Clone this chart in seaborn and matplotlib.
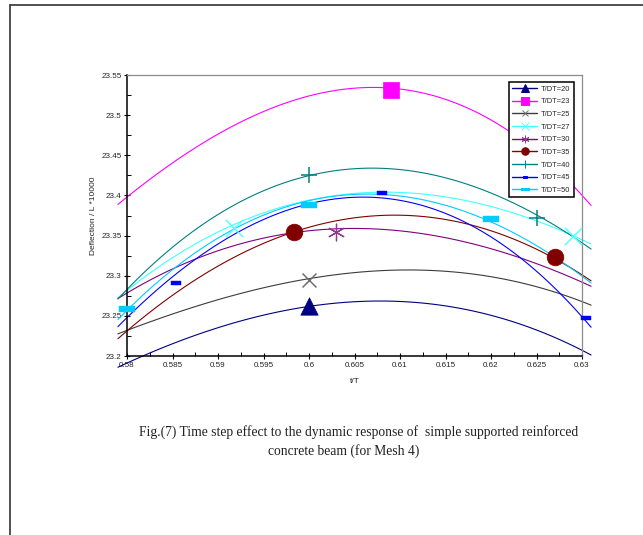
import numpy as np
import pandas as pd
import matplotlib
matplotlib.use("Agg")
import matplotlib.pyplot as plt
from matplotlib.lines import Line2D
import seaborn as sns

# ---------------- data ----------------
series_names = ["T/DT=20", "T/DT=23", "T/DT=25", "T/DT=27", "T/DT=30",
                "T/DT=35", "T/DT=40", "T/DT=45", "T/DT=50"]

curve_x = [0.58, 0.59, 0.60, 0.61, 0.62, 0.63]
curve_20 = [23.191, 23.236, 23.261, 23.268, 23.251, 23.207]
curve_23 = [23.398, 23.476, 23.525, 23.531, 23.495, 23.400]
curve_25 = [23.231, 23.273, 23.294, 23.306, 23.301, 23.267]
curve_27 = [23.281, 23.357, 23.390, 23.407, 23.385, 23.345]
curve_30 = [23.277, 23.336, 23.351, 23.356, 23.336, 23.291]
curve_35 = [23.230, 23.316, 23.357, 23.374, 23.359, 23.300]
curve_40 = [23.283, 23.376, 23.425, 23.432, 23.403, 23.341]
curve_45 = [23.249, 23.337, 23.388, 23.402, 23.341, 23.251]
curve_50 = [23.255, 23.353, 23.388, 23.398, 23.371, 23.298]

pts_x_20 = [0.600];                 pts_y_20 = [23.262]
pts_x_23 = [0.609];                 pts_y_23 = [23.531]
pts_x_25 = [0.600];                 pts_y_25 = [23.295]
pts_x_27 = [0.5918, 0.629];         pts_y_27 = [23.359, 23.349]
pts_x_30 = [0.603];                 pts_y_30 = [23.354]
pts_x_35 = [0.5984, 0.627];         pts_y_35 = [23.354, 23.323]
pts_x_40 = [0.600, 0.625];          pts_y_40 = [23.425, 23.372]
pts_x_45 = [0.5854, 0.608, 0.6304]; pts_y_45 = [23.291, 23.403, 23.247]
pts_x_50 = [0.580, 0.600, 0.620];   pts_y_50 = [23.259, 23.388, 23.371]

x_tick_values = [0.58, 0.585, 0.59, 0.595, 0.60, 0.605, 0.61, 0.615, 0.62, 0.625, 0.63]
x_tick_labels = ["0.58", "0.585", "0.59", "0.595", "0.6", "0.605", "0.61",
                 "0.615", "0.62", "0.625", "0.63"]
y_tick_values = [23.2, 23.25, 23.3, 23.35, 23.4, 23.45, 23.5, 23.55]
y_tick_labels = ["23.2", "23.25", "23.3", "23.35", "23.4", "23.45", "23.5", "23.55"]

x_label = "t/T"
y_label = "Deflection / L *10000"
caption_1 = "Fig.(7) Time step effect to the dynamic response of  simple supported reinforced"
caption_2 = "concrete beam (for Mesh 4)"

curves = [curve_20, curve_23, curve_25, curve_27, curve_30,
          curve_35, curve_40, curve_45, curve_50]
pts_x = [pts_x_20, pts_x_23, pts_x_25, pts_x_27, pts_x_30,
         pts_x_35, pts_x_40, pts_x_45, pts_x_50]
pts_y = [pts_y_20, pts_y_23, pts_y_25, pts_y_27, pts_y_30,
         pts_y_35, pts_y_40, pts_y_45, pts_y_50]

curve_df = pd.DataFrame({
    "series": np.repeat(series_names, len(curve_x)),
    "t": np.tile(curve_x, len(series_names)),
    "defl": np.concatenate(curves),
})
pts_df = pd.DataFrame({
    "series": np.concatenate([[n] * len(px) for n, px in zip(series_names, pts_x)]),
    "t": np.concatenate(pts_x),
    "defl": np.concatenate(pts_y),
})

# ---------------- styles ----------------
bar_wide = [(-1, -0.36), (1, -0.36), (1, 0.36), (-1, 0.36), (-1, -0.36)]
bar_small = [(-1, -0.5), (1, -0.5), (1, 0.5), (-1, 0.5), (-1, -0.5)]
styles = {
    "T/DT=20": dict(line="#000080", mc="#000080", marker="^", ms=12.5, lw_m=0.5),
    "T/DT=23": dict(line="#FF00FF", mc="#FF00FF", marker="s", ms=11.5, lw_m=0.5),
    "T/DT=25": dict(line="#3C3C3C", mc="#707070", marker="x", ms=10, lw_m=1.1),
    "T/DT=27": dict(line="#40FFFF", mc="#55FFFF", marker="x", ms=12.5, lw_m=1.1),
    "T/DT=30": dict(line="#800080", mc="#8E3A8E", marker=(6, 2, 0), ms=12, lw_m=0.9),
    "T/DT=35": dict(line="#800000", mc="#800000", marker="o", ms=12, lw_m=0.5),
    "T/DT=40": dict(line="#008080", mc="#008080", marker="+", ms=12, lw_m=1.1),
    "T/DT=45": dict(line="#0000FF", mc="#0000FF", marker=bar_small, ms=7, lw_m=0.3),
    "T/DT=50": dict(line="#00CCFF", mc="#00CCFF", marker=bar_wide, ms=12, lw_m=0.3),
}

sns.set_theme(style="white")
plt.rcParams["font.family"] = ["Liberation Sans", "DejaVu Sans"]

W, H = 643, 535
fig = plt.figure(figsize=(W / 100, H / 100), dpi=100)
fig.patch.set_facecolor("white")
ax = fig.add_axes([127 / W, 1 - 356 / H, (582 - 127) / W, (356 - 75) / H])
ax.set_facecolor("white")

# curves (smooth polynomial trend lines through the read values)
ax.set_xlim(0.579, 0.631)
for name in series_names:
    st = styles[name]
    sub = curve_df[curve_df["series"] == name]
    sns.regplot(x=sub["t"].to_numpy(), y=sub["defl"].to_numpy(), order=3, ci=None,
                scatter=False, truncate=False, ax=ax,
                line_kws=dict(color=st["line"], lw=0.8, clip_on=False, zorder=2))

# markers
for name in series_names:
    st = styles[name]
    sub = pts_df[pts_df["series"] == name]
    sns.scatterplot(x=sub["t"].to_numpy(), y=sub["defl"].to_numpy(), ax=ax,
                    marker=st["marker"], s=st["ms"] ** 2, color=st["mc"],
                    edgecolor=st["mc"], linewidth=st["lw_m"], clip_on=False,
                    zorder=4, legend=False)

ax.set_xlim(0.58, 0.63)
ax.set_ylim(23.2, 23.55)
ax.set_xticks(x_tick_values)
ax.set_xticklabels(x_tick_labels)
ax.set_yticks(y_tick_values)
ax.set_yticklabels(y_tick_labels)
ax.set_xticks([v + 0.0025 for v in x_tick_values[:-1]], minor=True)
ax.set_yticks([v + 0.025 for v in y_tick_values[:-1]], minor=True)
ax.tick_params(axis="both", which="major", direction="inout", length=5, width=0.8,
               color="black", labelsize=5.8, pad=1.5, labelcolor="#222222")
ax.tick_params(axis="both", which="minor", direction="in", length=3, width=0.7,
               color="black")
ax.tick_params(axis="x", which="both", bottom=True)
ax.tick_params(axis="y", which="both", left=True)

for side in ["left", "bottom"]:
    ax.spines[side].set_color("black")
    ax.spines[side].set_linewidth(1.1)
for side in ["top", "right"]:
    ax.spines[side].set_color("#8C8C8C")
    ax.spines[side].set_linewidth(0.9)

ax.set_xlabel(x_label, fontsize=6, labelpad=7, color="#222222")
ax.set_ylabel(y_label, fontsize=6, labelpad=3, color="#222222")
ax.grid(False)

# legend
handles = []
for name in series_names:
    st = styles[name]
    handles.append(Line2D([], [], color=st["line"], lw=1.0, marker=st["marker"],
                          markersize=st["ms"] * 0.45, markerfacecolor=st["mc"],
                          markeredgecolor=st["mc"], markeredgewidth=0.7))
leg = ax.legend(handles, series_names, loc="upper right",
                bbox_to_anchor=(0.982, 0.975), fontsize=5.4, frameon=True,
                fancybox=False, edgecolor="black", framealpha=1,
                handlelength=3.3, handletextpad=0.5, labelspacing=0.72,
                borderpad=0.45, borderaxespad=0)
leg.get_frame().set_linewidth(1.1)

# caption
fig.text(358.5 / W, 1 - 432 / H, caption_1, ha="center", va="center",
         fontsize=9.8, family=["Liberation Serif", "DejaVu Serif"], color="#222222")
fig.text(344 / W, 1 - 451 / H, caption_2, ha="center", va="center",
         fontsize=9.8, family=["Liberation Serif", "DejaVu Serif"], color="#222222")

# page frame
fig.add_artist(Line2D([9.5 / W, 9.5 / W], [0, 1 - 5 / H], transform=fig.transFigure,
                      color="#333333", lw=1.2))
fig.add_artist(Line2D([9.5 / W, 1], [1 - 5 / H, 1 - 5 / H], transform=fig.transFigure,
                      color="#333333", lw=1.2))

fig.savefig("out.png", dpi=100, facecolor="white")
